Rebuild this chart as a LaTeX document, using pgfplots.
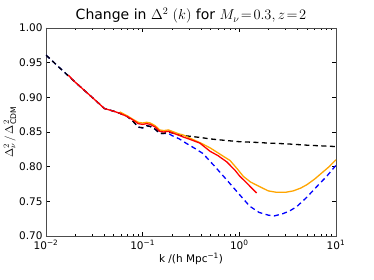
\documentclass[border=0pt]{standalone}
\usepackage{pgfplots}
\pgfplotsset{compat=1.18}
\usepackage{fontspec}
\setmainfont{DejaVu Sans}
\definecolor{mplorange}{RGB}{255,165,0}
\begin{document}
\begin{tikzpicture}
\useasboundingbox (-46pt,-44pt) rectangle (328pt,236pt);
\begin{axis}[
  at={(0,0)}, anchor=south west,
  scale only axis, width=290pt, height=208pt,
  xmode=log, xmin=0.01, xmax=10, ymin=0.70, ymax=1.00,
  ytick={0.70,0.75,0.80,0.85,0.90,0.95,1.00},
  yticklabels={0.70,0.75,0.80,0.85,0.90,0.95,1.00},
  xtick={0.01,0.1,1,10},
  xticklabels={10\textsuperscript{−2},10\textsuperscript{−1},10\textsuperscript{0},10\textsuperscript{1}},
  tick align=inside, tick pos=both,
  major tick length=4pt, minor tick length=2pt,
  tick style={black, line width=0.5pt},
  axis line style={black!70, line width=0.6pt},
  ticklabel style={font=\fontsize{10.5}{12}\selectfont},
  xticklabel style={yshift=-1pt},
  title={Change in $\Delta^2$ $(k)$ for $M_\nu\!=\!0.3,z\!=\!2$},
  title style={font=\fontsize{14}{16}\selectfont, yshift=-5pt},
  xlabel={k /(h Mpc\textsuperscript{−1})},
  xlabel style={font=\fontsize{10.5}{12}\selectfont, yshift=4pt},
  ylabel={$\Delta^2_\nu\,/\,\Delta^2_{\mathrm{CDM}}$},
  ylabel style={font=\fontsize{11}{13}\selectfont, yshift=-4pt},
  clip=true,
]
\addplot[blue, line width=1.3pt, dash pattern=on 5pt off 3.5pt] coordinates {
(0.010,0.961)(0.015,0.938)(0.02,0.922)(0.03,0.900)(0.036,0.890)(0.04,0.884)(0.05,0.880)(0.058,0.877)(0.07,0.872)(0.08,0.865)(0.09,0.857)(0.10,0.856)(0.11,0.859)(0.12,0.858)(0.135,0.854)(0.15,0.848)(0.165,0.848)(0.185,0.848)(0.2,0.845)(0.24,0.840)(0.28,0.834)(0.35,0.826)(0.42,0.819)(0.56,0.800)(0.74,0.781)(1.0,0.760)(1.28,0.743)(1.6,0.734)(2.0,0.730)(2.3,0.729)(2.8,0.732)(3.3,0.736)(3.9,0.742)(5,0.756)(6.3,0.771)(8,0.786)(10,0.802)
};
\addplot[black, line width=1.3pt, dash pattern=on 5pt off 3.5pt] coordinates {
(0.010,0.961)(0.015,0.938)(0.02,0.922)(0.03,0.900)(0.036,0.890)(0.04,0.884)(0.05,0.880)(0.058,0.877)(0.07,0.872)(0.08,0.865)(0.09,0.857)(0.10,0.856)(0.11,0.859)(0.12,0.858)(0.135,0.854)(0.15,0.848)(0.165,0.848)(0.185,0.850)(0.21,0.848)(0.24,0.846)(0.26,0.845)(0.3,0.844)(0.4,0.842)(0.5,0.840)(0.7,0.838)(1.0,0.836)(1.5,0.835)(2,0.834)(3,0.833)(5,0.831)(7,0.830)(10,0.829)
};
\addplot[mplorange, line width=1.3pt] coordinates {
(0.058,0.879)(0.07,0.873)(0.08,0.868)(0.09,0.864)(0.1,0.863)(0.11,0.864)(0.12,0.863)(0.135,0.859)(0.15,0.853)(0.165,0.852)(0.185,0.853)(0.21,0.850)(0.24,0.847)(0.26,0.846)(0.31,0.841)(0.4,0.834)(0.5,0.827)(0.6,0.820)(0.7,0.814)(0.8,0.809)(0.95,0.797)(1.1,0.786)(1.3,0.778)(1.63,0.771)(2.0,0.765)(2.43,0.763)(3.0,0.763)(3.6,0.765)(4.3,0.769)(5,0.774)(6,0.782)(7,0.790)(8.5,0.800)(10,0.810)
};
\addplot[red, line width=1.3pt] coordinates {
(0.017,0.932)(0.02,0.922)(0.03,0.900)(0.036,0.890)(0.04,0.884)(0.05,0.880)(0.058,0.877)(0.07,0.872)(0.08,0.867)(0.09,0.862)(0.1,0.861)(0.11,0.862)(0.12,0.861)(0.135,0.857)(0.15,0.851)(0.165,0.850)(0.185,0.851)(0.21,0.848)(0.24,0.845)(0.26,0.843)(0.3,0.840)(0.39,0.834)(0.5,0.822)(0.6,0.816)(0.74,0.807)(0.9,0.795)(1.0,0.787)(1.2,0.776)(1.51,0.762)
};
\end{axis}
\end{tikzpicture}
\end{document}
